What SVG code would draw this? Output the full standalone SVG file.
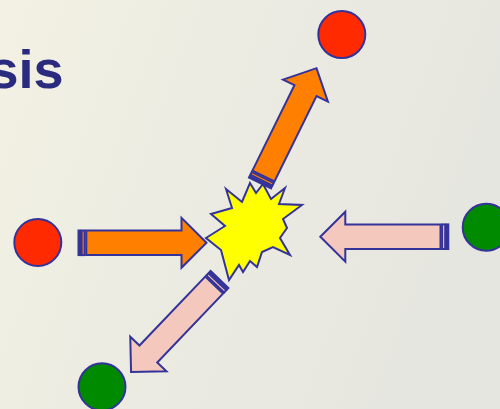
<svg xmlns="http://www.w3.org/2000/svg" xmlns:xlink="http://www.w3.org/1999/xlink" width="500" height="409" viewBox="0 0 500 409">
  <defs>
    <linearGradient id="bg" x1="0" y1="0" x2="1" y2="0.3">
      <stop offset="0" stop-color="#f2f1e3"/>
      <stop offset="0.5" stop-color="#ecebe2"/>
      <stop offset="1" stop-color="#e6e6e0"/>
    </linearGradient>
    <g id="arr">
      <path d="M7.8,-12.3 L103,-12.3 L103,-25 L128,0 L103,25 L103,12.3 L7.8,12.3 Z"/>
      <rect x="0" y="-12.3" width="1.6" height="24.6"/>
      <rect x="3.1" y="-12.3" width="3.1" height="24.6"/>
    </g>
  </defs>
  <style>
    .ln { stroke: #333399; stroke-width: 2; stroke-linejoin: miter; }
    .orange { fill: #ff7f00; }
    .pink { fill: #f4c8bc; }
    .red { fill: #ff2a00; }
    .green { fill: #008a00; }
    .title { font-family: "Liberation Sans", Arial, sans-serif; font-weight: bold; font-size: 54px; fill: #2a2a7e; }
  </style>
  <rect width="500" height="409" fill="url(#bg)"/>
  <text class="title" x="63.5" y="88" text-anchor="end">sis</text>

  <g id="explosion">
    <polygon class="ln" fill="#ffff00" points="226,189 242,202 250,183 256,193 263,184 271,199 285,188 279,204 302,205 283,219 287,228 280,238 290,255 273,247 262,252 257,267 250,261 243,272 239,265 229,280 221,250 206,238 225,226 211,214 232,208"/>
  </g>

  <g id="connectors">
    <use xlink:href="#arr" class="ln orange" transform="translate(78.5,242.8)"/>
    <use xlink:href="#arr" class="ln pink" transform="translate(448.3,236.7) rotate(180)"/>
    <use xlink:href="#arr" class="ln orange" transform="translate(260,183) rotate(-63.8)"/>
    <use xlink:href="#arr" class="ln pink" transform="translate(219.5,279.5) rotate(133.7)"/>
  </g>

  <g id="red-top"><circle class="ln red" cx="341.8" cy="34.6" r="23.5"/></g>
  <g id="red-left"><circle class="ln red" cx="37.8" cy="242.5" r="23.5"/></g>
  <g id="green-right"><circle class="ln green" cx="486.2" cy="227.2" r="23.5"/></g>
  <g id="green-bottom"><circle class="ln green" cx="102" cy="386.8" r="23.5"/></g>
</svg>
